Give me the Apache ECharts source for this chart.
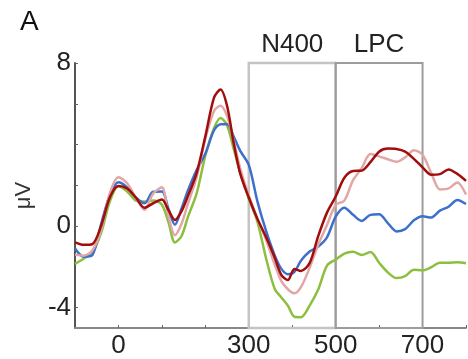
<!DOCTYPE html>
<html>
<head>
<meta charset="utf-8">
<script src="https://cdn.jsdelivr.net/npm/echarts@6/dist/echarts.min.js"></script>
<style>
  html, body { margin: 0; padding: 0; background: #fff; }
  #main { width: 468px; height: 359px; }
</style>
</head>
<body>
<div id="main"></div>
<script>
// time points (ms) shared by all four waveforms
var times = [-100,-80,-60,-40,-20,0,20,40,60,80,100,115,130,145,160,180,200,220,235,250,265,280,300,320,340,360,375,390,405,420,440,460,480,500,520,540,560,580,600,620,640,660,680,700,720,740,760,780,800];

// amplitudes (µV)
var greenVals = [-1.85,-1.6,-1.3,-0.35,1.2,1.95,1.7,1.25,1.2,1.26,1.05,0.2,-0.8,-0.5,0.45,1.6,3.45,4.8,5.3,4.95,3.8,2.65,1.35,0.2,-1.6,-3.1,-3.5,-3.9,-4.45,-4.47,-3.9,-3.1,-1.94,-1.64,-1.35,-1.26,-1.42,-1.27,-1.8,-2.27,-2.55,-2.45,-2.14,-2.17,-2.02,-1.8,-1.8,-1.77,-1.82];
var blueVals = [-1.1,-1.5,-1.42,0.1,1.5,2.15,1.9,1.4,1.12,1.68,1.7,0.85,0.06,0.85,1.75,2.75,3.55,4.7,5.0,5.0,4.4,3.7,3.0,1.2,-0.25,-1.45,-2.1,-2.36,-2.25,-1.7,-1.25,-1.0,-0.55,0.46,0.9,0.55,0.25,0.55,0.58,0.15,-0.26,-0.15,0.28,0.48,0.42,0.76,0.95,1.28,1.08];
var pinkVals = [-1.4,-1.45,-1.2,-0.2,1.6,2.4,2.1,1.4,0.8,1.6,1.9,0.5,-0.45,0.1,1.1,2.4,4.28,5.65,5.9,5.4,4.2,2.85,1.5,0.35,-0.68,-1.9,-2.7,-3.1,-3.3,-3.0,-2.05,-0.9,0.05,1.04,1.25,2.25,2.85,3.53,3.42,3.28,3.15,3.37,3.72,3.5,2.6,1.8,1.85,2.14,1.55];
var redVals = [-0.8,-0.92,-0.88,0.0,1.4,1.97,1.85,1.4,0.9,1.12,1.3,0.78,0.3,0.72,1.48,2.6,4.4,6.3,6.7,5.9,4.1,2.6,1.4,0.35,-0.55,-1.57,-2.4,-2.65,-2.1,-2.2,-1.82,-0.48,0.66,1.45,2.37,2.7,2.72,3.14,3.65,3.8,3.78,3.65,3.3,2.88,2.52,2.55,2.78,2.56,2.22];

// analysis windows
var windows = [
  { name: 'N400', from: 300, to: 500 },
  { name: 'LPC', from: 500, to: 700 }
];

var xTicks = [0,100,200,300,400,500,600,700,800];
var xLabels = [0,300,500,700];
var yTicks = [8,6,4,2,0,-4];
var yLabels = [8,0,-4];

function pairs(vals) {
  return times.map(function (t, i) { return [t, vals[i]]; });
}

var font = 'Liberation Sans, Arial, sans-serif';

function wave(vals, color) {
  return {
    type: 'line',
    data: pairs(vals),
    smooth: 0.3,
    symbol: 'none',
    lineStyle: { color: color, width: 2.5 },
    itemStyle: { color: color }
  };
}

var boxColors = ['#c4c4c4', '#9c9c9c'];

var chart = echarts.init(document.getElementById('main'), null, { renderer: 'canvas' });
chart.setOption({
  animation: false,
  grid: { left: 75, right: 2, top: 63, bottom: 30 },
  xAxis: {
    type: 'value',
    min: -100,
    max: 800,
    axisLine: { onZero: false, lineStyle: { color: '#888', width: 2 } },
    axisTick: { inside: true, length: 3, customValues: xTicks, lineStyle: { color: '#666' } },
    axisLabel: { customValues: xLabels, color: '#222', fontSize: 26, fontFamily: font, margin: 5 },
    splitLine: { show: false }
  },
  yAxis: {
    type: 'value',
    min: -5,
    max: 8,
    name: 'μV',
    nameLocation: 'middle',
    nameGap: 40,
    nameRotate: 90,
    nameTextStyle: { color: '#333', fontSize: 22, fontFamily: font },
    axisLine: { onZero: false, lineStyle: { color: '#555', width: 2 } },
    axisTick: { inside: true, length: 3, customValues: yTicks, lineStyle: { color: '#666' } },
    axisLabel: { customValues: yLabels, color: '#222', fontSize: 26, fontFamily: font, margin: 4 },
    splitLine: { show: false }
  },
  graphic: [{
    type: 'text',
    left: 20,
    top: 8,
    style: { text: 'A', fontSize: 28, fontFamily: font, fill: '#111' }
  }],
  series: [
    wave(greenVals, '#8cbf3f'),
    wave(blueVals, '#3d6fcc'),
    wave(pinkVals, '#e2a6a6'),
    wave(redVals, '#a10d0d'),
    {
      type: 'line',
      data: [],
      z: 10,
      markArea: {
        silent: true,
        data: windows.map(function (w, i) {
          return [{
            xAxis: w.from,
            yAxis: 8,
            itemStyle: { color: 'rgba(0,0,0,0)', borderColor: boxColors[i], borderWidth: i === 0 ? 2.5 : 2 },
            label: { show: true, position: 'top', distance: 4, formatter: w.name, color: '#222', fontSize: 26, fontFamily: font }
          }, {
            xAxis: w.to,
            yAxis: -5
          }];
        })
      }
    }
  ]
});
</script>
</body>
</html>
